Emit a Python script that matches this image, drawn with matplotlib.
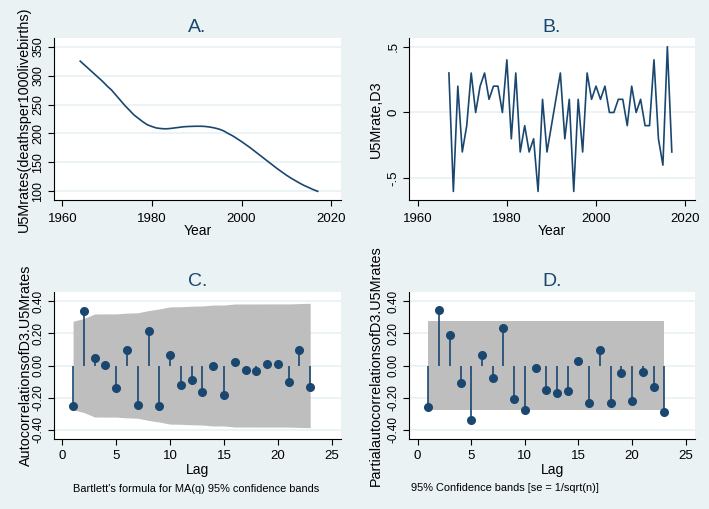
import numpy as np
import matplotlib
matplotlib.use("Agg")
import matplotlib.pyplot as plt

plt.rcParams['font.family'] = ['Liberation Sans', 'DejaVu Sans']

# ---- data ----
years_a = list(range(1964, 2018))
u5m = [325, 318, 311, 304, 297, 290, 282, 275, 266, 257,
       248, 240, 232, 226, 220, 215, 212, 209.5, 208.5, 208,
       208.5, 209.5, 210.5, 211.5, 212, 212.3, 212.5, 212.5, 212, 211,
       209.5, 207.5, 204.5, 200, 196, 191, 186, 180.5, 175, 169,
       163, 157, 151, 145, 139, 133.5, 128, 123, 118.5, 114,
       110, 106.5, 103, 100]

years_b = list(range(1967, 2018))
d3 = [0.3, -0.6, 0.2, -0.3, -0.1, 0.3, 0.0, 0.2, 0.3, 0.1,
      0.2, 0.2, 0.0, 0.4, -0.2, 0.3, -0.3, -0.1, -0.3, -0.2,
      -0.6, 0.1, -0.3, -0.1, 0.1, 0.3, -0.2, 0.1, -0.6, 0.1,
      -0.3, 0.3, 0.1, 0.2, 0.1, 0.2, 0.0, 0.0, 0.1, 0.1,
      -0.1, 0.2, 0.0, 0.1, -0.1, -0.1, 0.4, -0.2, -0.4, 0.5,
      -0.3]

lags = list(range(1, 24))
acf = [-0.254, 0.337, 0.048, 0.004, -0.141, 0.099, -0.246, 0.213, -0.250, 0.066,
       -0.122, -0.091, -0.167, -0.004, -0.180, 0.019, -0.025, -0.033, 0.010, 0.010,
       -0.101, 0.097, -0.134]
pacf = [-0.260, 0.343, 0.190, -0.110, -0.341, 0.068, -0.079, 0.234, -0.205, -0.279,
        -0.014, -0.155, -0.170, -0.161, 0.027, -0.234, 0.095, -0.232, -0.045, -0.219,
        -0.041, -0.134, -0.289]
n_obs = 51

# ---- style ----
BG = '#EAF2F3'
NAVY = '#1a476f'
GRID = '#EAF2F3'
BAND = '#BEBEBE'
W, H = 709, 509
NARROW = ['Liberation Sans Narrow', 'Liberation Sans', 'DejaVu Sans']

fig = plt.figure(figsize=(W / 100, H / 100), dpi=100, facecolor=BG)


def make_ax(l, r, t, b):
    return fig.add_axes([l / W, 1 - b / H, (r - l) / W, (b - t) / H])


def style(ax, title, tfrac, xpad, ysize):
    ax.set_facecolor('white')
    for s in ('top', 'right'):
        ax.spines[s].set_visible(False)
    for s in ('left', 'bottom'):
        ax.spines[s].set_color('black')
        ax.spines[s].set_linewidth(0.8)
    ax.tick_params(axis='both', direction='out', length=4, width=0.8,
                   colors='black')
    ax.tick_params(axis='x', pad=xpad, labelsize=9.5)
    ax.tick_params(axis='y', labelrotation=90, pad=3)
    for lab in ax.get_yticklabels():
        lab.set_va('center')
        lab.set_family(NARROW)
        lab.set_fontsize(ysize)
    ax.yaxis.grid(True, color=GRID, linewidth=1.3)
    ax.set_axisbelow(True)
    ax.text(0.5, 1 + tfrac, title, transform=ax.transAxes, ha='center',
            va='center', fontsize=14, color=NAVY)


# Panel A
axA = make_ax(54, 341, 38, 200)
axA.plot(years_a, u5m, color=NAVY, linewidth=1.2)
axA.set_xlim(1958.15, 2022.2)
axA.set_ylim(85, 365)
axA.set_xticks([1960, 1980, 2000, 2020])
axA.set_yticks([100, 150, 200, 250, 300, 350])
style(axA, 'A.', 10 / 162, 5, 9)
axA.set_xlabel('Year', fontsize=10)
axA.xaxis.set_label_coords(0.5, -0.15)
axA.set_ylabel('U5Mrates(deathsper1000livebirths)', fontsize=10.4)
axA.yaxis.set_label_coords(-0.080, 0.5)

# Panel B
axB = make_ax(409, 695, 38, 200)
axB.plot(years_b, d3, color=NAVY, linewidth=1.2)
axB.set_xlim(1958.05, 2022.2)
axB.set_ylim(-0.665, 0.566)
axB.set_xticks([1960, 1980, 2000, 2020])
axB.set_yticks([-0.5, 0, 0.5])
axB.set_yticklabels(['-.5', '0', '.5'])
style(axB, 'B.', 10 / 162, 5, 9.5)
axB.set_xlabel('Year', fontsize=10)
axB.xaxis.set_label_coords(0.5, -0.15)
axB.set_ylabel('U5Mrate,D3', fontsize=10.4)
axB.yaxis.set_label_coords(-0.091, 0.5)

# Panel C (ACF with Bartlett bands)
axC = make_ax(54, 341, 292, 439)
acf_arr = np.array(acf)
cum = np.concatenate([[0.0], np.cumsum(acf_arr[:-1] ** 2)])
bart = 1.96 * np.sqrt((1 + 2 * cum) / n_obs)
axC.fill_between(lags, -bart, bart, color=BAND, linewidth=0, zorder=1)
axC.vlines(lags, 0, acf, color=NAVY, linewidth=1.2, zorder=2)
axC.plot(lags, acf, 'o', color=NAVY, markersize=5.5, zorder=3)
axC.set_xlim(-0.77, 25.86)
axC.set_ylim(-0.456, 0.456)
axC.set_xticks([0, 5, 10, 15, 20, 25])
axC.set_yticks([-0.4, -0.2, 0, 0.2, 0.4])
axC.set_yticklabels(['-0.40', '-0.20', '0.00', '0.20', '0.40'])
style(axC, 'C.', 11 / 147, 4, 8.5)
axC.set_xlabel('Lag', fontsize=10)
axC.xaxis.set_label_coords(0.5, -0.16)
axC.set_ylabel('AutocorrelationsofD3.U5Mrates', fontsize=10.4)
axC.yaxis.set_label_coords(-0.073, 0.5)
axC.text(0.066, -0.34, "Bartlett's formula for MA(q) 95% confidence bands",
         transform=axC.transAxes, ha='left', va='center', fontsize=7.9)

# Panel D (PACF)
axD = make_ax(409, 695, 292, 439)
se = 1.96 / np.sqrt(n_obs)
axD.fill_between(lags, -se, se, color=BAND, linewidth=0, zorder=1)
axD.vlines(lags, 0, pacf, color=NAVY, linewidth=1.2, zorder=2)
axD.plot(lags, pacf, 'o', color=NAVY, markersize=5.5, zorder=3)
axD.set_xlim(-0.81, 25.87)
axD.set_ylim(-0.456, 0.456)
axD.set_xticks([0, 5, 10, 15, 20, 25])
axD.set_yticks([-0.4, -0.2, 0, 0.2, 0.4])
axD.set_yticklabels(['-0.40', '-0.20', '0.00', '0.20', '0.40'])
style(axD, 'D.', 11 / 147, 4, 8.5)
axD.set_xlabel('Lag', fontsize=10)
axD.xaxis.set_label_coords(0.5, -0.16)
axD.set_ylabel('PartialautocorrelationsofD3.U5Mrates', fontsize=10.4)
axD.yaxis.set_label_coords(-0.091, 0.5)
axD.text(0.007, -0.33, "95% Confidence bands [se = 1/sqrt(n)]",
         transform=axD.transAxes, ha='left', va='center', fontsize=7.9)

fig.savefig('out.png', dpi=100, facecolor=BG)
